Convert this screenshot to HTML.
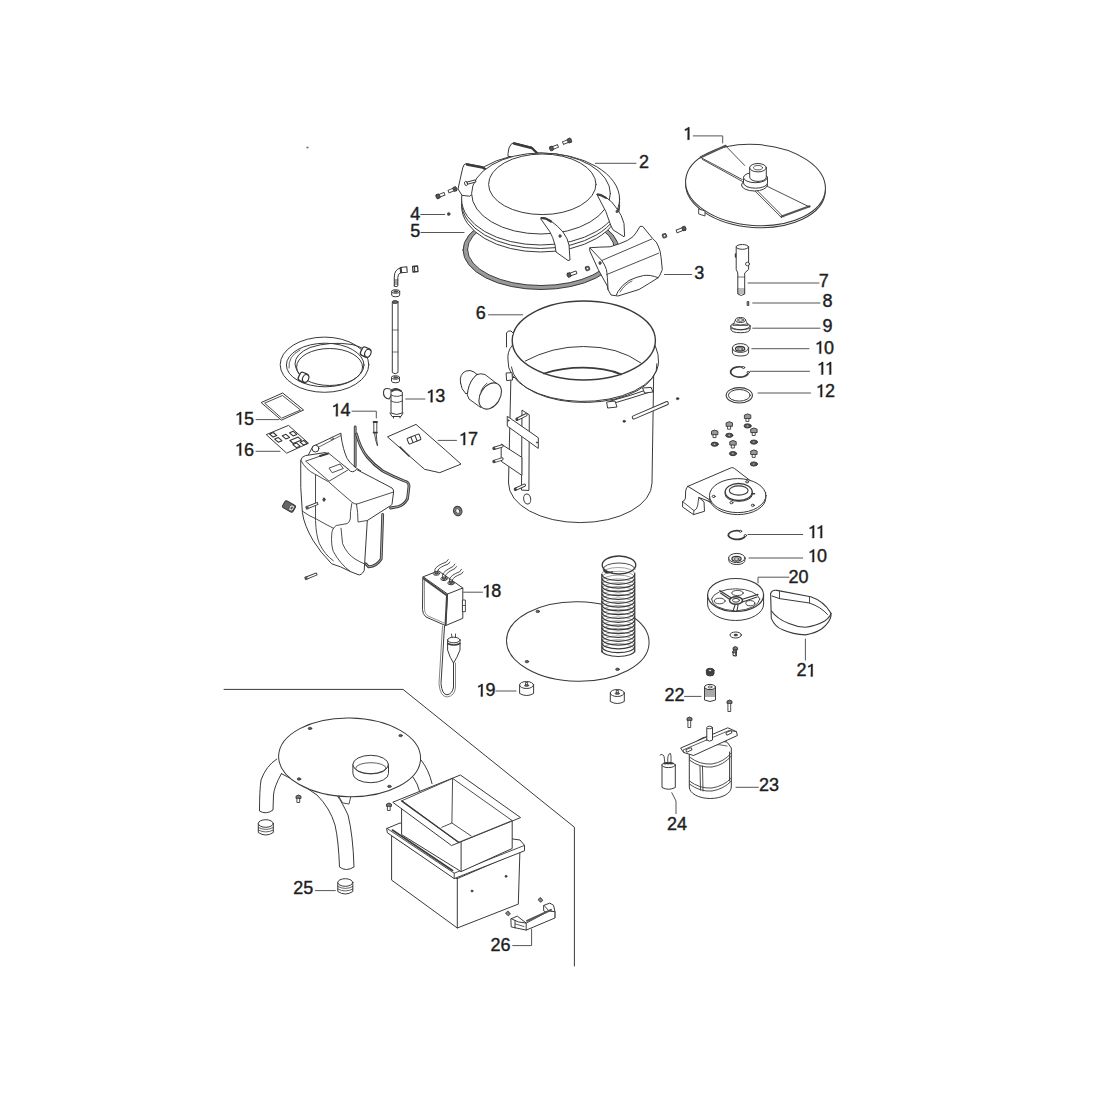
<!DOCTYPE html><html><head><meta charset="utf-8"><style>html,body{margin:0;padding:0;background:#fff;width:1100px;height:1100px;overflow:hidden}svg{display:block}</style></head><body><svg width="1100" height="1100" viewBox="0 0 1100 1100" stroke-linejoin="round" stroke-linecap="round"><path d="M224,689.4 L403,689.4 L574.4,827.2 L574.4,966" fill="none" stroke="#3a3a3a" stroke-width="1.0" /><path d="M693.3,135.9 L722.7,135.9 L722.7,143" fill="none" stroke="#555" stroke-width="1.0" /><path d="M595.3,163.3 L636,163.3" fill="none" stroke="#555" stroke-width="1.0" /><path d="M664.5,274.5 L691.8,274.5" fill="none" stroke="#555" stroke-width="1.0" /><path d="M420.7,214.5 L444.7,214.5" fill="none" stroke="#555" stroke-width="1.0" /><path d="M421,232.5 L464,232.5" fill="none" stroke="#555" stroke-width="1.0" /><path d="M488.5,314.8 L522.7,314.8" fill="none" stroke="#555" stroke-width="1.0" /><path d="M748,283 L819,283" fill="none" stroke="#555" stroke-width="1.0" /><path d="M752.7,303 L820,303" fill="none" stroke="#555" stroke-width="1.0" /><path d="M752.7,328.2 L820,328.2" fill="none" stroke="#555" stroke-width="1.0" /><path d="M751.8,348.7 L809,348.7" fill="none" stroke="#555" stroke-width="1.0" /><path d="M750,371.3 L809.5,371.3" fill="none" stroke="#555" stroke-width="1.0" /><path d="M758,393 L810.5,393" fill="none" stroke="#555" stroke-width="1.0" /><path d="M405.7,399 L425,399" fill="none" stroke="#555" stroke-width="1.0" /><path d="M352,411.2 L376.3,411.2 L376.3,418" fill="none" stroke="#555" stroke-width="1.0" /><path d="M256,419.6 L279,419.6" fill="none" stroke="#555" stroke-width="1.0" /><path d="M256,451.3 L280,451.3" fill="none" stroke="#555" stroke-width="1.0" /><path d="M438,440.4 L456.5,440.4" fill="none" stroke="#555" stroke-width="1.0" /><path d="M463.6,592.2 L482.5,592.2" fill="none" stroke="#555" stroke-width="1.0" /><path d="M496,691 L516,691" fill="none" stroke="#555" stroke-width="1.0" /><path d="M789,577.2 L758,577.2 L758,583" fill="none" stroke="#555" stroke-width="1.0" /><path d="M805.4,639 L805.4,660" fill="none" stroke="#555" stroke-width="1.0" /><path d="M684.5,696.4 L701,696.4" fill="none" stroke="#555" stroke-width="1.0" /><path d="M736,787.3 L758.4,787.3" fill="none" stroke="#555" stroke-width="1.0" /><path d="M671.8,792.7 L676,801 L676,813.6" fill="none" stroke="#555" stroke-width="1.0" /><path d="M315.5,890.6 L335.3,890.6" fill="none" stroke="#555" stroke-width="1.0" /><path d="M512.7,945.6 L531.6,945.6 L531.6,929" fill="none" stroke="#555" stroke-width="1.0" /><path d="M748,534.5 L802.7,534.5" fill="none" stroke="#555" stroke-width="1.0" /><path d="M749,558 L802.7,558" fill="none" stroke="#555" stroke-width="1.0" /><ellipse cx="755.5" cy="187" rx="70" ry="40.5" fill="#fff" stroke="#3a3a3a" stroke-width="1.0" transform="rotate(4 755.5 187)" /><ellipse cx="755.5" cy="185" rx="70" ry="40.5" fill="#fff" stroke="#3a3a3a" stroke-width="1.0" transform="rotate(4 755.5 185)" /><polygon points="699,209 705,211 705,216 699,214" fill="#fff" stroke="#3a3a3a" stroke-width="0.9"/><path d="M700.8,157.3 L725.6,145.8" fill="none" stroke="#555" stroke-width="2.2" /><path d="M700.8,157.5 L742.2,179.5 M702.5,159.5 L742.5,181.5 M725.6,145.8 L744.7,165.5" fill="none" stroke="#3a3a3a" stroke-width="0.9" /><path d="M781.6,216.5 L809.6,206.3" fill="none" stroke="#555" stroke-width="2.2" /><path d="M753.6,189.7 L781.6,217.7 M756,189.5 L783.5,217 M766.4,185.9 L809.6,207" fill="none" stroke="#3a3a3a" stroke-width="0.9" /><ellipse cx="754.5" cy="185" rx="13" ry="6" fill="#fff" stroke="#3a3a3a" stroke-width="1.0" /><path d="M743.5,177.5 L743.5,183.0 A12,5.2 0 0 0 767.5,183.0 L767.5,177.5 Z" fill="#fff" stroke="#3a3a3a" stroke-width="1.0" /><ellipse cx="755.5" cy="177.5" rx="12" ry="5.2" fill="#fff" stroke="#3a3a3a" stroke-width="1.0" /><path d="M749.7,167.7 L749.7,177.2 A8.3,4.2 0 0 0 766.3,177.2 L766.3,167.7 Z" fill="#fff" stroke="#3a3a3a" stroke-width="1.0" /><ellipse cx="758" cy="167.7" rx="8.3" ry="4.2" fill="#fff" stroke="#3a3a3a" stroke-width="1.0" /><ellipse cx="758" cy="167.7" rx="4.5" ry="2.2" fill="#fff" stroke="#3a3a3a" stroke-width="0.8" /><path d="M463,250 A78,39.5 0 1 0 619,250 A78,39.5 0 1 0 463,250 Z M467.5,249.5 A73.5,36 0 1 1 614.5,249.5 A73.5,36 0 1 1 467.5,249.5 Z" fill="#9a9a9a" stroke="#3a3a3a" stroke-width="1.0" fill-rule="evenodd"/><ellipse cx="540.6" cy="206" rx="79" ry="46" fill="#fff" stroke="#3a3a3a" stroke-width="1.0" /><ellipse cx="540.6" cy="202.5" rx="79" ry="46" fill="#fff" stroke="#3a3a3a" stroke-width="1.0" /><ellipse cx="540.6" cy="199" rx="79" ry="46" fill="#fff" stroke="#3a3a3a" stroke-width="1.0" /><path d="M461.8,195 L458,189 L462.7,168 Q463.5,164 466,163.6 L482.7,166.8 L491.8,172.7 L492,180 L470,196 Z" fill="#fff" stroke="#3a3a3a" stroke-width="1.0" /><path d="M467,164.5 L482.7,167.5 L491.5,173.5" fill="none" stroke="#3a3a3a" stroke-width="2.4" /><path d="M508,156 L508,153.6 L509,148 Q510.5,143.5 513.6,142.7 L531.8,147.3 L539,154 L539,158 Z" fill="#fff" stroke="#3a3a3a" stroke-width="1.0" /><path d="M514,143.5 L531.8,148 L538.5,154.5" fill="none" stroke="#3a3a3a" stroke-width="2.4" /><ellipse cx="541" cy="193.5" rx="69.4" ry="40.5" fill="#fff" stroke="#3a3a3a" stroke-width="1.0" /><ellipse cx="542.3" cy="184.3" rx="53.7" ry="30.3" fill="#fff" stroke="#3a3a3a" stroke-width="1.0" /><g transform="translate(466 183.5) rotate(-15)"><rect x="0" y="-1.1" width="10" height="2.2" fill="#fff" stroke="#333" stroke-width="0.9"/><ellipse cx="0" cy="0" rx="1.4" ry="2.2" fill="#fff" stroke="#333" stroke-width="0.9"/></g><path d="M541,218.5 Q543,217 546,218 L551,221 Q558,226 563,232 Q568,239 569,245 L570,260 L568,260.5 L556,252 L555,245 Q553,237 550,232 Z" fill="#fff" stroke="#3a3a3a" stroke-width="1.0" /><path d="M541.5,218 Q546,218 551,221.5" fill="none" stroke="#3a3a3a" stroke-width="2.2" /><ellipse cx="560" cy="236" rx="1.2" ry="1.5" fill="#555" stroke="#3a3a3a" stroke-width="0.6" /><path d="M597.3,194.2 Q600,193 606,197.4 Q612,201 616.4,208 Q622,215 624,223.5 L624.6,236.2 L624,236.8 L613,229.8 L611,226 L606,212 Z" fill="#fff" stroke="#3a3a3a" stroke-width="1.0" /><path d="M597.5,194.5 Q601,195 606,198" fill="none" stroke="#3a3a3a" stroke-width="2.0" /><ellipse cx="617" cy="211.5" rx="1.1" ry="1.3" fill="#555" stroke="#3a3a3a" stroke-width="0.6" /><path d="M590,247.7 Q600,247 610,246.8 Q620,244 627.3,240.5 Q634,237 636.4,232.3 L640,226.4 L642.7,226.4 L652.7,238.6 Q657,242 658.2,246 Q660.5,251 661,256.8 L662.3,269.5 L660,275 L658.2,277.7 Q650,283 639,289.5 L618,296 L611,295 L608,289.5 L607.3,286 L598.2,269.5 L590,251.4 Z" fill="#fff" stroke="#3a3a3a" stroke-width="1.0" /><path d="M590.5,248.5 L601.8,260.5 Q605,265 606.4,269.5 Q607.5,275 608,289.5" fill="none" stroke="#3a3a3a" stroke-width="1.0" /><path d="M601.8,260.5 L651.8,239 M606.8,274.5 L658.6,253.2" fill="none" stroke="#3a3a3a" stroke-width="0.9" /><path d="M658.2,277.7 Q650,274.5 643.6,275.5 Q636,277 629,280.5 Q622,285 618,291.4 L616.4,295" fill="none" stroke="#3a3a3a" stroke-width="1.0" /><path d="M620,292 Q625,284 632,281" fill="none" stroke="#3a3a3a" stroke-width="0.8" /><ellipse cx="600" cy="263" rx="1.2" ry="1.6" fill="#555" stroke="#3a3a3a" stroke-width="0.6" /><g transform="translate(438 196.4) rotate(-22)"><rect x="0" y="-1.4" width="7" height="2.8" fill="#fff" stroke="#3a3a3a" stroke-width="0.9"/><rect x="-1.9" y="-2.1999999999999997" width="3.8" height="4.3999999999999995" rx="1" fill="#555" stroke="#333" stroke-width="0.8"/></g><g transform="translate(455 189) rotate(158)"><rect x="0" y="-1.4" width="7" height="2.8" fill="#fff" stroke="#3a3a3a" stroke-width="0.9"/><rect x="-1.8" y="-2.1" width="3.6" height="4.2" rx="1" fill="#555" stroke="#333" stroke-width="0.8"/></g><g transform="translate(551.5 148.5) rotate(-22)"><rect x="0" y="-1.4" width="7" height="2.8" fill="#fff" stroke="#3a3a3a" stroke-width="0.9"/><rect x="-1.8" y="-2.1" width="3.6" height="4.2" rx="1" fill="#555" stroke="#333" stroke-width="0.8"/></g><g transform="translate(569.5 140.5) rotate(158)"><rect x="0" y="-1.4" width="7" height="2.8" fill="#fff" stroke="#3a3a3a" stroke-width="0.9"/><rect x="-1.9" y="-2.1999999999999997" width="3.8" height="4.3999999999999995" rx="1" fill="#555" stroke="#333" stroke-width="0.8"/></g><g transform="translate(569 275) rotate(-20)"><rect x="0" y="-1.4" width="8" height="2.8" fill="#fff" stroke="#3a3a3a" stroke-width="0.9"/><rect x="-1.8" y="-2.1" width="3.6" height="4.2" rx="1" fill="#555" stroke="#333" stroke-width="0.8"/></g><g transform="translate(587.5 268.5) rotate(-20)"><rect x="-2.0" y="-2.0" width="4" height="4" rx="0.8" fill="#666" stroke="#333" stroke-width="0.8"/><circle cx="0" cy="0" r="0.8" fill="#fff"/></g><g transform="translate(664.5 235.8) rotate(-20)"><rect x="-2.0" y="-2.0" width="4" height="4" rx="0.8" fill="#666" stroke="#333" stroke-width="0.8"/><circle cx="0" cy="0" r="0.8" fill="#fff"/></g><g transform="translate(684 228.5) rotate(158)"><rect x="0" y="-1.4" width="8" height="2.8" fill="#fff" stroke="#3a3a3a" stroke-width="0.9"/><rect x="-1.8" y="-2.1" width="3.6" height="4.2" rx="1" fill="#555" stroke="#333" stroke-width="0.8"/></g><ellipse cx="448.7" cy="214" rx="1.4" ry="1.6" fill="#444" stroke="#3a3a3a" stroke-width="0.5" /><path d="M736.2,247 L736.2,269.4 L737.8,273 L737.8,294 Q741.2,297 744.7,294 L744.7,273 L748.6,269.4 L748.6,247" fill="#fff" stroke="#3a3a3a" stroke-width="1.0" /><ellipse cx="742.4" cy="246.9" rx="6.2" ry="2.4" fill="#fff" stroke="#3a3a3a" stroke-width="1.0" /><path d="M737.8,277 L744.7,277 M737.8,289 L744.7,289 M737.8,291 L744.7,291 M737.8,293 L744.7,293" fill="none" stroke="#3a3a3a" stroke-width="0.7" /><ellipse cx="747.5" cy="264" rx="2" ry="1.8" fill="#fff" stroke="#3a3a3a" stroke-width="0.9" /><path d="M735.5,254 L735.5,257" fill="none" stroke="#3a3a3a" stroke-width="1.4" /><path d="M747.5,301.5 L748.8,301.5 L748.8,305.5 L747.5,305.5 Z" fill="#555" stroke="#3a3a3a" stroke-width="0.8" /><path d="M730.8,326 L730.8,329 Q731,332.7 740.5,332.7 Q750,332.7 750.1,329 L750.1,326" fill="#fff" stroke="#3a3a3a" stroke-width="1.0" /><ellipse cx="740.5" cy="326" rx="9.7" ry="3.6" fill="#fff" stroke="#3a3a3a" stroke-width="1.0" /><path d="M733,325 L735.5,320 L745.5,320 L748,325 Z" fill="#fff" stroke="#3a3a3a" stroke-width="0.9" /><path d="M731.5,328.5 Q740.5,331.5 749.5,328.5" fill="none" stroke="#3a3a3a" stroke-width="0.8" /><ellipse cx="740.5" cy="320" rx="5" ry="2.5" fill="#fff" stroke="#3a3a3a" stroke-width="1.0" /><ellipse cx="740.5" cy="320" rx="3" ry="1.3" fill="#fff" stroke="#3a3a3a" stroke-width="0.9" /><path d="M734,324 Q740.5,326 747,324" fill="none" stroke="#3a3a3a" stroke-width="0.8" /><path d="M732.4,348 L732.4,352 Q732.4,356 740.5,356 Q748.6,356 748.6,352 L748.6,348" fill="#fff" stroke="#3a3a3a" stroke-width="1.0" /><ellipse cx="740.5" cy="348" rx="8.1" ry="4.4" fill="#fff" stroke="#3a3a3a" stroke-width="1.0" /><ellipse cx="740.1" cy="348.8" rx="4.6" ry="2.3" fill="#fff" stroke="#3a3a3a" stroke-width="1.3" /><ellipse cx="740.1" cy="349" rx="2.6" ry="1.2" fill="#fff" stroke="#3a3a3a" stroke-width="0.9" /><path d="M743.5,367.3 A8.9,5.2 0 1 0 748.4,372.5" fill="none" stroke="#3a3a3a" stroke-width="1.7" /><ellipse cx="743.5" cy="367.6" rx="1.2" ry="1.0" fill="#fff" stroke="#3a3a3a" stroke-width="1.0" /><ellipse cx="748.3" cy="372.4" rx="1.2" ry="1.0" fill="#fff" stroke="#3a3a3a" stroke-width="1.0" /><ellipse cx="739.3" cy="395.3" rx="13.1" ry="7.7" fill="none" stroke="#3a3a3a" stroke-width="1.1" /><ellipse cx="739.3" cy="395.3" rx="10.9" ry="5.8" fill="none" stroke="#3a3a3a" stroke-width="1.0" /><ellipse cx="714.7" cy="444.2" rx="3.6" ry="2.1" fill="#555" stroke="#333" stroke-width="0.9" /><ellipse cx="714.7" cy="444.2" rx="1.26" ry="0.735" fill="#fff" stroke="#3a3a3a" stroke-width="0.5" /><g><rect x="713.4000000000001" y="433.79999999999995" width="2.6" height="3.8" fill="#fff" stroke="#3a3a3a" stroke-width="0.9"/><path d="M711.5,434.29999999999995 L711.5,431.29999999999995 Q714.7,428.9 717.9000000000001,431.29999999999995 L717.9000000000001,434.29999999999995 Z" fill="#999" stroke="#333" stroke-width="0.9"/></g><ellipse cx="729.3" cy="435.3" rx="3.6" ry="2.1" fill="#555" stroke="#333" stroke-width="0.9" /><ellipse cx="729.3" cy="435.3" rx="1.26" ry="0.735" fill="#fff" stroke="#3a3a3a" stroke-width="0.5" /><g><rect x="728.0" y="425.4" width="2.6" height="3.8" fill="#fff" stroke="#3a3a3a" stroke-width="0.9"/><path d="M726.0999999999999,425.9 L726.0999999999999,422.9 Q729.3,420.5 732.5,422.9 L732.5,425.9 Z" fill="#999" stroke="#333" stroke-width="0.9"/></g><ellipse cx="747.6" cy="425.9" rx="3.6" ry="2.1" fill="#555" stroke="#333" stroke-width="0.9" /><ellipse cx="747.6" cy="425.9" rx="1.26" ry="0.735" fill="#fff" stroke="#3a3a3a" stroke-width="0.5" /><g><rect x="746.3000000000001" y="417.59999999999997" width="2.6" height="3.8" fill="#fff" stroke="#3a3a3a" stroke-width="0.9"/><path d="M744.4,418.09999999999997 L744.4,415.09999999999997 Q747.6,412.7 750.8000000000001,415.09999999999997 L750.8000000000001,418.09999999999997 Z" fill="#999" stroke="#333" stroke-width="0.9"/></g><ellipse cx="753.9" cy="442.1" rx="3.6" ry="2.1" fill="#555" stroke="#333" stroke-width="0.9" /><ellipse cx="753.9" cy="442.1" rx="1.26" ry="0.735" fill="#fff" stroke="#3a3a3a" stroke-width="0.5" /><g><rect x="752.6" y="431.7" width="2.6" height="3.8" fill="#fff" stroke="#3a3a3a" stroke-width="0.9"/><path d="M750.6999999999999,432.2 L750.6999999999999,429.2 Q753.9,426.8 757.1,429.2 L757.1,432.2 Z" fill="#999" stroke="#333" stroke-width="0.9"/></g><ellipse cx="733" cy="453.6" rx="3.6" ry="2.1" fill="#555" stroke="#333" stroke-width="0.9" /><ellipse cx="733" cy="453.6" rx="1.26" ry="0.735" fill="#fff" stroke="#3a3a3a" stroke-width="0.5" /><g><rect x="731.7" y="444.2" width="2.6" height="3.8" fill="#fff" stroke="#3a3a3a" stroke-width="0.9"/><path d="M729.8,444.7 L729.8,441.7 Q733,439.3 736.2,441.7 L736.2,444.7 Z" fill="#999" stroke="#333" stroke-width="0.9"/></g><ellipse cx="753.9" cy="464" rx="3.6" ry="2.1" fill="#555" stroke="#333" stroke-width="0.9" /><ellipse cx="753.9" cy="464" rx="1.26" ry="0.735" fill="#fff" stroke="#3a3a3a" stroke-width="0.5" /><g><rect x="752.6" y="453.59999999999997" width="2.6" height="3.8" fill="#fff" stroke="#3a3a3a" stroke-width="0.9"/><path d="M750.6999999999999,454.09999999999997 L750.6999999999999,451.09999999999997 Q753.9,448.7 757.1,451.09999999999997 L757.1,454.09999999999997 Z" fill="#999" stroke="#333" stroke-width="0.9"/></g><path d="M510.9,378 L508.5,483 A71.5,39.5 0 0 0 652,483 L653.7,372 Z" fill="#fff" stroke="#3a3a3a" stroke-width="1.0" /><path d="M512,345.6 Q507,352 508,360 A75,39.5 0 0 0 658.6,363.5 Q659,354 655.4,346" fill="#fff" stroke="#3a3a3a" stroke-width="1.0" /><ellipse cx="583.8" cy="340.5" rx="71.6" ry="39.5" fill="#fff" stroke="#3a3a3a" stroke-width="1.4" /><path d="M511.4,367 A72.5,37 0 0 0 657,363.6" fill="none" stroke="#3a3a3a" stroke-width="1.0" /><path d="M525.3,361 Q552,346.5 583.4,346.5 Q618,346.5 640.6,362.8" fill="none" stroke="#3a3a3a" stroke-width="1.0" /><path d="M544,373.5 Q562,367.7 583.4,367.7 Q605,367.7 621,374.3" fill="none" stroke="#3a3a3a" stroke-width="1.8" /><path d="M506.5,347 L506.5,333 Q508,330 511,331 L513,333" fill="#fff" stroke="#3a3a3a" stroke-width="1.0" /><polygon points="506.5,373 512,372.6 512.5,380 507,380.5" fill="#fff" stroke="#3a3a3a" stroke-width="1.0"/><path d="M609.5,401.3 Q630,396 652,388 M611,404 Q632,398 653,391" fill="none" stroke="#3a3a3a" stroke-width="1.0" /><polygon points="643,388 651,387.4 653,392 645,393" fill="#fff" stroke="#3a3a3a" stroke-width="1.0"/><polygon points="607,402 615,401 617,407 608,408" fill="#fff" stroke="#3a3a3a" stroke-width="1.0"/><g transform="translate(632.4 418) rotate(-23.3)"><rect x="0" y="-1.6" width="39" height="3.2" rx="1.6" fill="#fff" stroke="#3a3a3a" stroke-width="1"/></g><ellipse cx="624.2" cy="421.3" rx="1.4" ry="1.1" fill="#333" stroke="#3a3a3a" stroke-width="0.5" /><ellipse cx="677.6" cy="398.7" rx="1.4" ry="1.1" fill="#333" stroke="#3a3a3a" stroke-width="0.5" /><polygon points="522.3,410.3 529.3,414.8 528.9,490.5 521.9,490.1" fill="#fff" stroke="#3a3a3a" stroke-width="1.0"/><polygon points="507.6,416.5 538.3,437.7 538.3,448.4 507.6,426.3" fill="#fff" stroke="#3a3a3a" stroke-width="1.0"/><polygon points="501.5,444.3 521.9,457.4 521.9,475.4 501.5,461.5" fill="#fff" stroke="#3a3a3a" stroke-width="1.0"/><line x1="517" y1="419.3" x2="526" y2="414.8" stroke="#3a3a3a" stroke-width="3.2" stroke-linecap="round"/><line x1="517" y1="419.3" x2="526" y2="414.8" stroke="#fff" stroke-width="1.4" stroke-linecap="round"/><ellipse cx="517" cy="419.3" rx="1.0" ry="1.4" fill="#444" stroke="#3a3a3a" stroke-width="0.5" /><line x1="494" y1="448.4" x2="502" y2="446" stroke="#3a3a3a" stroke-width="3.2" stroke-linecap="round"/><line x1="494" y1="448.4" x2="502" y2="446" stroke="#fff" stroke-width="1.4" stroke-linecap="round"/><ellipse cx="494" cy="448.4" rx="1.0" ry="1.4" fill="#444" stroke="#3a3a3a" stroke-width="0.5" /><line x1="494" y1="461.5" x2="502" y2="459" stroke="#3a3a3a" stroke-width="3.2" stroke-linecap="round"/><line x1="494" y1="461.5" x2="502" y2="459" stroke="#fff" stroke-width="1.4" stroke-linecap="round"/><ellipse cx="494" cy="461.5" rx="1.0" ry="1.4" fill="#444" stroke="#3a3a3a" stroke-width="0.5" /><line x1="515.4" y1="489.3" x2="524.4" y2="485.2" stroke="#3a3a3a" stroke-width="3.2" stroke-linecap="round"/><line x1="515.4" y1="489.3" x2="524.4" y2="485.2" stroke="#fff" stroke-width="1.4" stroke-linecap="round"/><ellipse cx="515.4" cy="489.3" rx="1.0" ry="1.4" fill="#444" stroke="#3a3a3a" stroke-width="0.5" /><ellipse cx="508.5" cy="420.5" rx="0.8" ry="0.8" fill="#444" stroke="#3a3a3a" stroke-width="0.4" /><ellipse cx="537" cy="442.5" rx="0.8" ry="0.8" fill="#444" stroke="#3a3a3a" stroke-width="0.4" /><ellipse cx="527.2" cy="499" rx="3.5" ry="5" fill="#fff" stroke="#3a3a3a" stroke-width="1.0" transform="rotate(-10 527.2 499)" /><path d="M460.5,383 Q459,374 466,371 Q470,369.5 474,372 L477,374.5 Q470,380 468,392 L466,394 Q461,389 460.5,383 Z" fill="#fff" stroke="#3a3a3a" stroke-width="1.0" /><path d="M477,374.5 Q481,373 485,374.5 L496.7,383.5 L480.7,407.5 L469,399 Q466,395 468,390 Q470,380 477,374.5 Z" fill="#fff" stroke="#3a3a3a" stroke-width="1.0" /><ellipse cx="490.2" cy="396" rx="14.2" ry="9.8" fill="#fff" stroke="#3a3a3a" stroke-width="1.1" transform="rotate(-57 490.2 396)" /><path d="M481,391 Q483,386 487,383" fill="none" stroke="#3a3a3a" stroke-width="0.8" /><ellipse cx="457.7" cy="511" rx="4.2" ry="4.8" fill="#777" stroke="#3a3a3a" stroke-width="1.0" transform="rotate(-20 457.7 511)" /><ellipse cx="457.7" cy="511" rx="1.8" ry="2.4" fill="#fff" stroke="#3a3a3a" stroke-width="0.6" transform="rotate(-20 457.7 511)" /><path d="M394.3,286 L394.3,277 Q394.3,269.5 400.5,268 L401,272.5 Q397.8,273.5 397.8,277.5 L397.8,286 Q396,287.5 394.3,286 Z" fill="#fff" stroke="#3a3a3a" stroke-width="1.0" /><path d="M394.3,280 L397.8,280 M394.3,282 L397.8,282 M394.3,284 L397.8,284" fill="none" stroke="#3a3a3a" stroke-width="0.9" /><polygon points="400.2,267.5 406.8,266.8 407.2,272.2 400.6,272.8" fill="#fff" stroke="#3a3a3a" stroke-width="1.1"/><path d="M401,268 L401.5,272.5" fill="none" stroke="#3a3a3a" stroke-width="1.4" /><polygon points="412.6,266.5 417.5,266 418,271.5 413,272" fill="#fff" stroke="#3a3a3a" stroke-width="1.3"/><line x1="414.5" y1="266.3" x2="414.7" y2="271.8" stroke="#3a3a3a" stroke-width="1.1"/><path d="M391.7,291.5 L391.7,295.0 A4,1.8 0 0 0 399.7,295.0 L399.7,291.5 Z" fill="#fff" stroke="#3a3a3a" stroke-width="1.0" /><ellipse cx="395.7" cy="291.5" rx="4" ry="1.8" fill="#fff" stroke="#3a3a3a" stroke-width="1.0" /><ellipse cx="395.7" cy="291.5" rx="2" ry="0.9" fill="#555" stroke="#3a3a3a" stroke-width="0.5" /><path d="M392.3,302 L392.3,372.5 Q395.2,375 398,372.5 L398,302" fill="#fff" stroke="#3a3a3a" stroke-width="1.0" /><ellipse cx="395.15" cy="302" rx="2.85" ry="1.5" fill="#666" stroke="#3a3a3a" stroke-width="0.9" /><line x1="392.3" y1="330" x2="398" y2="330" stroke="#3a3a3a" stroke-width="0.7"/><line x1="392.3" y1="352" x2="398" y2="352" stroke="#3a3a3a" stroke-width="0.7"/><path d="M391.5,377.5 L391.5,381.0 A4,1.8 0 0 0 399.5,381.0 L399.5,377.5 Z" fill="#fff" stroke="#3a3a3a" stroke-width="1.0" /><ellipse cx="395.5" cy="377.5" rx="4" ry="1.8" fill="#fff" stroke="#3a3a3a" stroke-width="1.0" /><ellipse cx="395.5" cy="377.5" rx="2" ry="0.9" fill="#555" stroke="#3a3a3a" stroke-width="0.5" /><path d="M390,389 Q384,387 383.5,392 Q383,398 389,399 L391,396" fill="#fff" stroke="#3a3a3a" stroke-width="1.1" /><path d="M391,390 L391,413 Q396.5,416 402.3,413 L402.3,392 Q396.5,386 391,390 Z" fill="#fff" stroke="#3a3a3a" stroke-width="1.0" /><path d="M391,395 Q396.5,398 402.3,395 M391,401 Q396.5,404 402.3,401" fill="none" stroke="#3a3a3a" stroke-width="0.9" /><path d="M392,391 Q396.5,388 401,391" fill="none" stroke="#3a3a3a" stroke-width="2.0" /><path d="M390,413 L392,416.5 L401,416.5 L403,413 M393.5,416.5 L393.5,418 M400,416.5 L400,418" fill="none" stroke="#3a3a3a" stroke-width="1.0" /><path d="M373.8,422 L373.8,432.6 L376.8,432.6 L376.8,422 Z" fill="#fff" stroke="#3a3a3a" stroke-width="0.9" /><path d="M373.6,422 L377,422 M373.6,432.6 L377,432.6" fill="none" stroke="#3a3a3a" stroke-width="1.8" /><path d="M374.5,433 Q375,440 377.4,445.5 M376.2,433 Q376.5,439 377.4,445.5" fill="none" stroke="#3a3a3a" stroke-width="0.9" /><ellipse cx="324.5" cy="364.7" rx="44.3" ry="27.6" fill="none" stroke="#3a3a3a" stroke-width="1.0" /><ellipse cx="325.2" cy="365" rx="38.8" ry="21.8" fill="none" stroke="#3a3a3a" stroke-width="1.0" /><path d="M304,379 Q296,372 295,364 Q295,354 310,347.5 Q330,341 352,344.5 Q358,346 362,348" fill="none" stroke="#3a3a3a" stroke-width="1.0" /><ellipse cx="329.6" cy="367" rx="33" ry="18.5" fill="none" stroke="#3a3a3a" stroke-width="1.0" /><path d="M289,368 Q288,356 300,350" fill="none" stroke="#3a3a3a" stroke-width="0.8" /><g transform="translate(366 352.4) rotate(25)"><rect x="-5" y="-4.5" width="9" height="9" rx="2.5" fill="#fff" stroke="#333" stroke-width="1.3"/><ellipse cx="2" cy="0" rx="3" ry="4" fill="#fff" stroke="#333" stroke-width="1.1"/></g><g transform="translate(303.8 377.6) rotate(25)"><rect x="-5" y="-4.5" width="9" height="9" rx="2.5" fill="#fff" stroke="#333" stroke-width="1.3"/><ellipse cx="2" cy="0" rx="3" ry="4" fill="#fff" stroke="#333" stroke-width="1.1"/></g><polygon points="261.5,402.4 282.7,393 303.6,410 281.8,420" fill="#fff" stroke="#3a3a3a" stroke-width="1.0"/><polygon points="265,403 282.5,395.5 300.5,410 282,418" fill="none" stroke="#3a3a3a" stroke-width="0.9"/><polygon points="266.6,434.5 288.5,425.4 308.5,443.2 287,453" fill="#fff" stroke="#3a3a3a" stroke-width="1.0"/><polygon points="269.6,434.0 273.3,432.5 276.8,435.6 273.1,437.1" fill="#fff" stroke="#333" stroke-width="1.1"/><polygon points="282.3,435.8 286.0,434.3 289.5,437.4 285.8,438.9" fill="#fff" stroke="#333" stroke-width="1.1"/><polygon points="289.6,432.8 293.3,431.3 296.8,434.4 293.1,435.9" fill="#fff" stroke="#333" stroke-width="1.1"/><polygon points="274.7,439.1 278.4,437.6 281.9,440.7 278.2,442.2" fill="#fff" stroke="#333" stroke-width="1.1"/><polygon points="289.9,440.5 298.2,437.1 301.5,440.1 293.2,443.5" fill="#fff" stroke="#333" stroke-width="1.1"/><polygon points="292.9,444.6 296.6,443.1 300.1,446.2 296.4,447.7" fill="#fff" stroke="#333" stroke-width="1.1"/><polygon points="300.1,442.0 303.8,440.5 307.3,443.6 303.6,445.1" fill="#fff" stroke="#333" stroke-width="1.1"/><polygon points="387.8,436.7 416,424.4 445.5,450.2 461,464.1 439.7,472.7 425,469.4" fill="#fff" stroke="#3a3a3a" stroke-width="1.0"/><path d="M400,447 L409,456" fill="none" stroke="#3a3a3a" stroke-width="1.5" /><g transform="rotate(-22 414 439)"><rect x="407.5" y="436" width="13" height="6" rx="1" fill="#fff" stroke="#333" stroke-width="1"/><line x1="411.8" y1="436" x2="411.8" y2="442" stroke="#333" stroke-width="1"/><line x1="416.2" y1="436" x2="416.2" y2="442" stroke="#333" stroke-width="1"/></g><path d="M313.2,446.3 L341,433.1 L341,435.5 Q343,450 347.2,458.6 Q352,466 361,471 L330,480 L305,462 Z" fill="#fff" stroke="#3a3a3a" stroke-width="1.0" /><path d="M314.5,449.3 L341,435.5" fill="none" stroke="#3a3a3a" stroke-width="0.8" /><ellipse cx="315.5" cy="448.6" rx="3.4" ry="3.4" fill="#fff" stroke="#3a3a3a" stroke-width="1.0" /><ellipse cx="332" cy="438.5" rx="1.3" ry="1.3" fill="#fff" stroke="#3a3a3a" stroke-width="0.8" /><path d="M355.2,427 L355.2,466" fill="none" stroke="#3a3a3a" stroke-width="2.8" /><path d="M355.2,427 L355.2,466" fill="none" stroke="#aaa" stroke-width="1.0" /><path d="M356.5,434 Q360,448 367.3,457 Q374,465 382.7,471 Q394,477 404.4,481 Q409,482 409,486 L407.5,498.8 Q404,505 398.2,506.6 L390.5,508" fill="none" stroke="#3a3a3a" stroke-width="2.8" /><path d="M356.5,434 Q360,448 367.3,457 Q374,465 382.7,471 Q394,477 404.4,481 Q409,482 409,486 L407.5,498.8 Q404,505 398.2,506.6 L390.5,508" fill="none" stroke="#aaa" stroke-width="1.0" /><path d="M382.7,514.3 L381.2,559 Q377,566 368.8,566.9 L365.7,563.8" fill="none" stroke="#3a3a3a" stroke-width="2.8" /><path d="M382.7,514.3 L381.2,559 Q377,566 368.8,566.9 L365.7,563.8" fill="none" stroke="#aaa" stroke-width="1.0" /><path d="M300.8,460.2 Q301.5,456.5 305.5,455.6 L325.6,452.5 L348.7,469.5 Q352,474 356.5,469.5 Q375,479 392,488 Q394,490 393.6,492 L392,504.2 Q391,506 389,506.6 L367.3,520.5 L364.2,570.7 Q361,576 358,574.6 L350.3,571.5 Q340,566 331.7,563.8 Q320,552 313.2,540.6 Q304,525 302.4,512.7 L300.8,488 Z" fill="#fff" stroke="#3a3a3a" stroke-width="1.0" /><path d="M306,461 L328.6,453.2 L348.7,469.5 L329.4,481 Z" fill="#fff" stroke="#3a3a3a" stroke-width="0.9" /><polygon points="329.4,468 340,464 343.3,468.5 332.5,472.6" fill="#fff" stroke="#3a3a3a" stroke-width="0.9"/><path d="M320,456 L328,453.5" fill="none" stroke="#3a3a3a" stroke-width="2.0" /><path d="M300.8,460.2 Q306,470 314.7,474 L328.6,481.8 Q340,492 351.8,502 Q354,504 356.5,504.2" fill="none" stroke="#3a3a3a" stroke-width="0.9" /><path d="M356.5,504.2 L393.6,492" fill="none" stroke="#3a3a3a" stroke-width="0.9" /><path d="M351.8,503.5 Q350,512 350.3,519 Q349,523 347.2,523.6 L336.4,525.5 Q332,528 331.7,534.4 Q331,545 333.3,551.4 Q340,564 350.3,571.5" fill="none" stroke="#3a3a3a" stroke-width="0.9" /><path d="M356.5,504.2 Q358,512 358,522 L367.3,520.5" fill="none" stroke="#3a3a3a" stroke-width="0.9" /><path d="M315.5,475 L315.5,520.5 Q316,535 319.4,543.7 Q325,555 333.3,560.7" fill="none" stroke="#3a3a3a" stroke-width="0.9" /><path d="M302.4,511.2 Q309,516 316.3,519 Q325,524 333.3,528.2" fill="none" stroke="#3a3a3a" stroke-width="0.9" /><path d="M341,528.2 Q342,538 342.6,543.7 Q347,554 355,559 Q360,562 364.2,563.8" fill="none" stroke="#3a3a3a" stroke-width="0.9" /><g transform="translate(307.5 507.5) rotate(-22)"><rect x="0" y="-1.1" width="11" height="2.2" fill="#fff" stroke="#333" stroke-width="0.9"/><rect x="-2" y="-1.8" width="3" height="3.6" rx="1" fill="#555"/></g><ellipse cx="324" cy="499.6" rx="1.2" ry="1.8" fill="#444" stroke="#3a3a3a" stroke-width="0.6" /><g transform="translate(306.5 578) rotate(-22)"><rect x="0" y="-1.1" width="11" height="2.2" fill="#fff" stroke="#333" stroke-width="0.9"/><rect x="-2" y="-1.8" width="3" height="3.6" rx="1" fill="#555"/></g><g transform="translate(289 506.5) rotate(30)"><rect x="-6" y="-4" width="12" height="8" rx="2" fill="#666" stroke="#333" stroke-width="0.9"/><ellipse cx="3" cy="0" rx="2.5" ry="3.3" fill="#fff" stroke="#333" stroke-width="0.8"/><ellipse cx="3" cy="0" rx="1.2" ry="1.6" fill="#555"/></g><path d="M687.5,486.5 L731.4,467.7 Q733,467.3 734.5,468.5 L766,492.8 L760,505 L714.7,505.3 Z" fill="#fff" stroke="#3a3a3a" stroke-width="1.0" /><path d="M687.5,486.5 Q685.5,489 685.6,492 L685.4,498.2 Q684.8,501 682.6,501.5 L682.6,507 L693.5,514.6 L704.5,511.3 L704,501.8 L698.8,497.5 L715.4,503.6 Z" fill="#fff" stroke="#3a3a3a" stroke-width="1.0" /><path d="M682.6,501.5 L694,510.7 L693.5,514.6 M694,510.7 Q697,509.5 697.6,506 L698.8,497.5" fill="none" stroke="#3a3a3a" stroke-width="0.9" /><path d="M709.5,495.6 L709.5,497.6 A28.2,17 0 0 0 765.9,497.6 L765.9,495.6" fill="#fff" stroke="#3a3a3a" stroke-width="1.0" /><ellipse cx="737.7" cy="495.6" rx="28.2" ry="17" fill="#fff" stroke="#3a3a3a" stroke-width="1.0" /><path d="M725.2,492 L725.2,494.5 A13.5,6.8 0 0 0 752.3,494.5 L752.3,492" fill="#fff" stroke="#3a3a3a" stroke-width="1.0" /><ellipse cx="738.7" cy="492" rx="13.5" ry="8.5" fill="#fff" stroke="#3a3a3a" stroke-width="1.3" /><ellipse cx="738.7" cy="490.5" rx="9.4" ry="4.6" fill="#fff" stroke="#3a3a3a" stroke-width="1.1" /><ellipse cx="713.7" cy="496.4" rx="1.5" ry="1.1" fill="#fff" stroke="#3a3a3a" stroke-width="1.0" /><ellipse cx="747.1" cy="481.8" rx="1.5" ry="1.1" fill="#fff" stroke="#3a3a3a" stroke-width="1.0" /><ellipse cx="752.8" cy="505.3" rx="1.5" ry="1.1" fill="#fff" stroke="#3a3a3a" stroke-width="1.0" /><ellipse cx="731.4" cy="502.7" rx="1.5" ry="1.1" fill="#fff" stroke="#3a3a3a" stroke-width="1.0" /><path d="M752,493.8 L754.5,493.8" fill="none" stroke="#3a3a3a" stroke-width="1.6" /><path d="M740.5,531 A8.6,4.4 0 1 0 745.5,535.5" fill="none" stroke="#3a3a3a" stroke-width="1.7" /><ellipse cx="740.5" cy="531.3" rx="1.2" ry="1.0" fill="#fff" stroke="#3a3a3a" stroke-width="1.0" /><ellipse cx="745.4" cy="535.5" rx="1.2" ry="1.0" fill="#fff" stroke="#3a3a3a" stroke-width="1.0" /><path d="M728.7,558 L728.7,559.5 Q728.7,564.5 736.8,564.5 Q745,564.5 745,559.5 L745,558" fill="#fff" stroke="#3a3a3a" stroke-width="1.0" /><ellipse cx="736.8" cy="558" rx="8.2" ry="4.6" fill="#fff" stroke="#3a3a3a" stroke-width="1.0" /><ellipse cx="736.5" cy="558.8" rx="4.6" ry="2.4" fill="#fff" stroke="#3a3a3a" stroke-width="1.3" /><ellipse cx="736.5" cy="559" rx="2.6" ry="1.2" fill="#fff" stroke="#3a3a3a" stroke-width="0.9" /><path d="M707.6,595 L707.6,604 A28,16.5 0 0 0 763.6,604 L763.6,595" fill="#fff" stroke="#3a3a3a" stroke-width="1.0" /><ellipse cx="735.6" cy="595" rx="28" ry="16.5" fill="#fff" stroke="#3a3a3a" stroke-width="1.2" /><path d="M711.5,599 A24.3,11.5 0 0 1 759.8,599" fill="none" stroke="#3a3a3a" stroke-width="0.9" /><path d="M711.5,599 Q712,609 735.6,611 Q758,609 759.8,599" fill="none" stroke="#3a3a3a" stroke-width="0.9" /><ellipse cx="719.7" cy="601" rx="5.5" ry="2.8" fill="#fff" stroke="#3a3a3a" stroke-width="0.9" /><ellipse cx="750.3" cy="603.2" rx="4.5" ry="2.6" fill="#fff" stroke="#3a3a3a" stroke-width="0.9" /><ellipse cx="737.5" cy="593" rx="5.8" ry="2.6" fill="#fff" stroke="#3a3a3a" stroke-width="0.9" /><path d="M719.7,590.5 L733,599 M720.5,593 L732,601 M758,594.4 L740,600 M757,597 L741,602.5 M735,605 L733,611 M738,605 L737,611" fill="none" stroke="#3a3a3a" stroke-width="1.1" /><ellipse cx="736" cy="600.5" rx="6.5" ry="3.8" fill="#fff" stroke="#3a3a3a" stroke-width="1.5" /><ellipse cx="736" cy="600.3" rx="3.5" ry="1.9" fill="#fff" stroke="#3a3a3a" stroke-width="1.0" /><ellipse cx="735.7" cy="635" rx="5.7" ry="3" fill="#fff" stroke="#3a3a3a" stroke-width="1.0" /><ellipse cx="735.7" cy="635" rx="1.8" ry="1" fill="#333" stroke="#3a3a3a" stroke-width="0.5" /><g><rect x="734.0999999999999" y="649.0" width="2.4" height="7" fill="#fff" stroke="#3a3a3a" stroke-width="0.9"/><path d="M733.05,649.5 L733.05,647.7 Q735.3,645.3 737.55,647.7 L737.55,649.5 Z" fill="#777" stroke="#333" stroke-width="0.9"/></g><path d="M770.6,593.5 Q772,589.5 777,590.4 L810.7,596.7 Q824,601 831,613.3 L831,615.8 Q830,622 822.2,628.5 Q816,633 805.6,634.9 Q793,634.5 782.7,629.8 Q775,627 771.3,618.4 Z" fill="#fff" stroke="#3a3a3a" stroke-width="1.1" /><path d="M772,596 L779.5,598.6 L809.5,603 Q821,607 827.5,614.5" fill="none" stroke="#3a3a3a" stroke-width="1.0" /><path d="M771.5,611 Q777,619 789,623.5 Q797,627 805.6,627.3 Q816,626 824.7,621 Q830,617 831,613.3" fill="none" stroke="#3a3a3a" stroke-width="1.1" /><path d="M779.5,591.5 L779.5,598.6 M809.5,597 L809.5,603" fill="none" stroke="#3a3a3a" stroke-width="0.9" /><path d="M706.4000000000001,670.5 L706.4000000000001,673.7 A3.8,2.2 0 0 0 714.0,673.7 L714.0,670.5 Z" fill="#444" stroke="#3a3a3a" stroke-width="1.0" /><ellipse cx="710.2" cy="670.5" rx="3.8" ry="2.2" fill="#444" stroke="#3a3a3a" stroke-width="1.0" /><ellipse cx="710.2" cy="670.5" rx="1.5" ry="0.8" fill="#fff" stroke="#3a3a3a" stroke-width="0.4" /><path d="M704.5,687 L704.5,700 Q710,703 715.5,700 L715.5,687" fill="#fff" stroke="#3a3a3a" stroke-width="1.0" /><path d="M705,690 L715,690 M705,692 L715,692 M705,694 L715,694 M705,696 L715,696" fill="none" stroke="#555" stroke-width="1.0" /><ellipse cx="710" cy="687" rx="5.5" ry="2.6" fill="#fff" stroke="#3a3a3a" stroke-width="1.0" /><ellipse cx="710" cy="687" rx="2" ry="1" fill="#fff" stroke="#3a3a3a" stroke-width="0.8" /><g><rect x="733.4" y="651.9" width="2.2" height="3.6" fill="#fff" stroke="#3a3a3a" stroke-width="0.9"/><path d="M732.7,652.4 L732.7,651.2 Q734.5,648.8 736.3,651.2 L736.3,652.4 Z" fill="#777" stroke="#333" stroke-width="0.9"/></g><g><rect x="728.3" y="702.5" width="2.4" height="9" fill="#fff" stroke="#3a3a3a" stroke-width="0.9"/><path d="M727.0,703 L727.0,701.2 Q729.5,698.8 732.0,701.2 L732.0,703 Z" fill="#777" stroke="#333" stroke-width="0.9"/></g><g><rect x="688.3" y="719.5" width="2.4" height="8" fill="#fff" stroke="#3a3a3a" stroke-width="0.9"/><path d="M687.0,720 L687.0,718.2 Q689.5,715.8 692.0,718.2 L692.0,720 Z" fill="#777" stroke="#333" stroke-width="0.9"/></g><path d="M689.3,752 L689.3,787 A21,11.5 0 0 0 731.3,787 L731.3,748 Q725,736 710,736 Q694,738 689.3,752 Z" fill="#fff" stroke="#3a3a3a" stroke-width="1.0" /><path d="M689.3,757 Q700,765 712,764 Q724,762 731.3,753 M689.3,760 Q700,768 712,767 Q724,765 731.3,756" fill="none" stroke="#3a3a3a" stroke-width="0.9" /><path d="M689.3,781 Q700,789 712,788 Q724,786 731.3,778 M689.3,784 Q700,792 712,791 Q724,789 731.3,781" fill="none" stroke="#3a3a3a" stroke-width="0.9" /><path d="M700,766 L700.5,790 M702.5,766 L703,791 M729.5,752 L729.5,781" fill="none" stroke="#3a3a3a" stroke-width="0.9" /><path d="M697,745 Q710,738 726,742 M700,749 Q712,742 727,746" fill="none" stroke="#3a3a3a" stroke-width="0.8" /><polygon points="681,747.9 727.8,727.8 736.4,731.6 737.4,735.5 693.5,755.5 684,752.6" fill="#fff" stroke="#3a3a3a" stroke-width="1.0"/><path d="M684,752.6 L683,750 L729,730.5 L736.4,731.6" fill="none" stroke="#3a3a3a" stroke-width="0.8" /><g transform="rotate(-24 689 750)"><rect x="686" y="748.5" width="6" height="2.6" rx="1" fill="#fff" stroke="#333" stroke-width="0.9"/></g><g transform="rotate(-24 729 733)"><rect x="726" y="731.5" width="6" height="2.6" rx="1" fill="#fff" stroke="#333" stroke-width="0.9"/></g><path d="M706.8,740 L706.8,728 Q709.6,725 712.5,728 L712.5,740 Q709.6,742.5 706.8,740 Z" fill="#fff" stroke="#3a3a3a" stroke-width="1.0" /><ellipse cx="709.6" cy="727.5" rx="2.8" ry="1.3" fill="#fff" stroke="#3a3a3a" stroke-width="0.9" /><path d="M662,765 L662,787.5 Q668.5,791 675.3,787.5 L675.3,765" fill="#fff" stroke="#3a3a3a" stroke-width="1.0" /><ellipse cx="668.6" cy="765" rx="6.7" ry="2.6" fill="#fff" stroke="#3a3a3a" stroke-width="1.0" /><path d="M665,764 L664,756 Q662,753 660,755 M668,764 Q667,757 669,754 Q671,752 671,756 L671,764" fill="none" stroke="#3a3a3a" stroke-width="0.9" /><path d="M664,763.5 L673,763.5" fill="none" stroke="#3a3a3a" stroke-width="1.6" /><path d="M444.5,626 L441,683.6 Q442,694.5 447,694.8 Q452.5,694 453.5,687 L453.5,663" fill="none" stroke="#3a3a3a" stroke-width="1.0" /><path d="M442.5,626 L439,683.6 Q440,696.5 447,697 Q455,696 455.5,687 L455.5,663" fill="none" stroke="#666" stroke-width="0.8" /><path d="M423.2,576.8 L438.4,570.8 L462.8,588 L462.8,618.3 L445.6,625.6 L426,617 Q422.5,614 422.5,610 Z" fill="#fff" stroke="#3a3a3a" stroke-width="1.0" /><path d="M423.2,576.8 L447.6,594 L462.8,588 M447.6,594 L445.6,625.6" fill="none" stroke="#3a3a3a" stroke-width="1.0" /><path d="M423.5,578.5 L447,595.5 L445.5,625" fill="none" stroke="#444" stroke-width="2.0" /><path d="M424.5,580 L424.5,610 Q425,614 428,616 L444,623" fill="none" stroke="#666" stroke-width="0.7" /><ellipse cx="436.4" cy="573.5" rx="3.2" ry="1.8" fill="#fff" stroke="#3a3a3a" stroke-width="1.0" /><path d="M435.09999999999997,573.5 L434.9,569.5 Q436.4,565.5 446.3,562 L448.3,559.5 M437.7,573.0 L437.9,570.5 Q438.4,567.5 448.3,564 L449.8,562" fill="none" stroke="#3a3a3a" stroke-width="0.9" /><ellipse cx="436.4" cy="573.5" rx="1.6" ry="0.9" fill="#555" stroke="#3a3a3a" stroke-width="0.5" /><ellipse cx="444" cy="578.8" rx="3.2" ry="1.8" fill="#fff" stroke="#3a3a3a" stroke-width="1.0" /><path d="M442.7,578.8 L442.5,574.8 Q444,570.8 452.9,566.6 L454.9,564.1 M445.3,578.3 L445.5,575.8 Q446,572.8 454.9,568.6 L456.4,566.6" fill="none" stroke="#3a3a3a" stroke-width="0.9" /><ellipse cx="444" cy="578.8" rx="1.6" ry="0.9" fill="#555" stroke="#3a3a3a" stroke-width="0.5" /><ellipse cx="451" cy="583" rx="3.2" ry="1.8" fill="#fff" stroke="#3a3a3a" stroke-width="1.0" /><path d="M449.7,583 L449.5,579 Q451,575 459.5,571.8 L461.5,569.3 M452.3,582.5 L452.5,580 Q453,577 461.5,573.8 L463.0,571.8" fill="none" stroke="#3a3a3a" stroke-width="0.9" /><ellipse cx="451" cy="583" rx="1.6" ry="0.9" fill="#555" stroke="#3a3a3a" stroke-width="0.5" /><polygon points="462.8,600 465.4,600 465.4,611.7 462.8,611.7" fill="#fff" stroke="#3a3a3a" stroke-width="0.9"/><line x1="462.8" y1="605.5" x2="465.4" y2="605.5" stroke="#3a3a3a" stroke-width="0.8"/><path d="M447.6,640 L447.6,650 Q450,658 453.5,663 Q457,658 460,650 L460,640 Z" fill="#fff" stroke="#3a3a3a" stroke-width="1.0" /><ellipse cx="453.8" cy="640" rx="6.2" ry="2.8" fill="#fff" stroke="#3a3a3a" stroke-width="1.0" /><path d="M447.6,643.5 Q453.8,646.5 460,643.5" fill="none" stroke="#3a3a3a" stroke-width="1.4" /><path d="M452,637.5 L451.5,634 M455.5,637.5 L455.5,634" fill="none" stroke="#3a3a3a" stroke-width="0.9" /><ellipse cx="577.8" cy="641.5" rx="71.3" ry="39.8" fill="#fff" stroke="#3a3a3a" stroke-width="1.0" transform="rotate(1 577.8 641.5)" /><ellipse cx="537.8" cy="611.4" rx="1.8" ry="1.2" fill="#666" stroke="#3a3a3a" stroke-width="0.8" /><ellipse cx="526.9" cy="661.6" rx="1.8" ry="1.2" fill="#666" stroke="#3a3a3a" stroke-width="0.8" /><ellipse cx="617.5" cy="669.3" rx="1.8" ry="1.2" fill="#666" stroke="#3a3a3a" stroke-width="0.8" /><path d="M601.8,573 L601.8,650 A16.5,7 0 0 0 634.8,650 L634.8,573 Z" fill="#fff" stroke="none"/><path d="M602.3,573.0 A16,5.5 0 0 1 634.3,573.0 M602.3,576.8 A16,5.5 0 0 1 634.3,576.8 M602.3,580.6 A16,5.5 0 0 1 634.3,580.6 M602.3,584.4 A16,5.5 0 0 1 634.3,584.4 M602.3,588.2 A16,5.5 0 0 1 634.3,588.2 M602.3,592.0 A16,5.5 0 0 1 634.3,592.0 M602.3,595.8 A16,5.5 0 0 1 634.3,595.8 M602.3,599.6 A16,5.5 0 0 1 634.3,599.6 M602.3,603.4 A16,5.5 0 0 1 634.3,603.4 M602.3,607.2 A16,5.5 0 0 1 634.3,607.2 M602.3,611.0 A16,5.5 0 0 1 634.3,611.0 M602.3,614.8 A16,5.5 0 0 1 634.3,614.8 M602.3,618.6 A16,5.5 0 0 1 634.3,618.6 M602.3,622.4 A16,5.5 0 0 1 634.3,622.4 M602.3,626.2 A16,5.5 0 0 1 634.3,626.2 M602.3,630.0 A16,5.5 0 0 1 634.3,630.0 M602.3,633.8 A16,5.5 0 0 1 634.3,633.8 M602.3,637.6 A16,5.5 0 0 1 634.3,637.6 M602.3,641.4 A16,5.5 0 0 1 634.3,641.4 M602.3,645.2 A16,5.5 0 0 1 634.3,645.2 M602.3,649.0 A16,5.5 0 0 1 634.3,649.0 " fill="none" stroke="#888" stroke-width="0.8" /><path d="M602,574.5 A16.3,6 0 0 0 634.6,574.5 M602,578.3 A16.3,6 0 0 0 634.6,578.3 M602,582.1 A16.3,6 0 0 0 634.6,582.1 M602,585.9 A16.3,6 0 0 0 634.6,585.9 M602,589.7 A16.3,6 0 0 0 634.6,589.7 M602,593.5 A16.3,6 0 0 0 634.6,593.5 M602,597.3 A16.3,6 0 0 0 634.6,597.3 M602,601.1 A16.3,6 0 0 0 634.6,601.1 M602,604.9 A16.3,6 0 0 0 634.6,604.9 M602,608.7 A16.3,6 0 0 0 634.6,608.7 M602,612.5 A16.3,6 0 0 0 634.6,612.5 M602,616.3 A16.3,6 0 0 0 634.6,616.3 M602,620.1 A16.3,6 0 0 0 634.6,620.1 M602,623.9 A16.3,6 0 0 0 634.6,623.9 M602,627.7 A16.3,6 0 0 0 634.6,627.7 M602,631.5 A16.3,6 0 0 0 634.6,631.5 M602,635.3 A16.3,6 0 0 0 634.6,635.3 M602,639.1 A16.3,6 0 0 0 634.6,639.1 M602,642.9 A16.3,6 0 0 0 634.6,642.9 M602,646.7 A16.3,6 0 0 0 634.6,646.7 M602,650.5 A16.3,6 0 0 0 634.6,650.5 " fill="none" stroke="#3a3a3a" stroke-width="1.2" /><path d="M601.8,574 L601.8,652 M634.8,573 L634.8,652" fill="none" stroke="#3a3a3a" stroke-width="1.1" /><path d="M603,569 A16,6 0 0 1 635,569" fill="none" stroke="#3a3a3a" stroke-width="0.9" /><ellipse cx="619" cy="565" rx="16.8" ry="9" fill="none" stroke="#3a3a3a" stroke-width="1.3" /><path d="M604,570 Q606,574 612,572" fill="none" stroke="#3a3a3a" stroke-width="1.8" /><path d="M519.6,685 L519.6,693.5 Q526.6,697.5 533.6,693.5 L533.6,685" fill="#fff" stroke="#3a3a3a" stroke-width="1.0" /><ellipse cx="526.6" cy="685" rx="7" ry="3.5" fill="#fff" stroke="#3a3a3a" stroke-width="1.0" /><path d="M525.6,685.5 L525.6,682.5 L527.6,682.5 L527.6,685.5" fill="#fff" stroke="#3a3a3a" stroke-width="0.9" /><ellipse cx="526.6" cy="685.5" rx="2.2" ry="1.1" fill="#555" stroke="#3a3a3a" stroke-width="0.5" /><path d="M610.3,693 L610.3,701.5 Q617.3,705.5 624.3,701.5 L624.3,693" fill="#fff" stroke="#3a3a3a" stroke-width="1.0" /><ellipse cx="617.3" cy="693" rx="7" ry="3.5" fill="#fff" stroke="#3a3a3a" stroke-width="1.0" /><path d="M616.3,693.5 L616.3,690.5 L618.3,690.5 L618.3,693.5" fill="#fff" stroke="#3a3a3a" stroke-width="0.9" /><ellipse cx="617.3" cy="693.5" rx="2.2" ry="1.1" fill="#555" stroke="#3a3a3a" stroke-width="0.5" /><path d="M421,760 Q429,770 432,783.6" fill="none" stroke="#3a3a3a" stroke-width="1.0" /><path d="M413,777 Q418,784 419.5,791" fill="none" stroke="#3a3a3a" stroke-width="1.0" /><path d="M276.8,759 Q266,766 261,780 Q259.5,790 259.5,811 Q266,815 273,810 L273.5,795 Q274,787 281.4,773.6" fill="#fff" stroke="#3a3a3a" stroke-width="1.0" /><path d="M281.4,773.6 Q300,782 317,795 Q330,808 335,825 Q338.5,840 339.5,867 Q346,872 354,867 Q353,835 348,815 Q342,802 337.7,796.4" fill="#fff" stroke="#3a3a3a" stroke-width="1.0" /><path d="M339,796 L351,796 L349,804 L343,803 Z" fill="#fff" stroke="#3a3a3a" stroke-width="0.9" /><ellipse cx="349.6" cy="757.3" rx="71" ry="39.4" fill="#fff" stroke="#3a3a3a" stroke-width="1.0" transform="rotate(1 349.6 757.3)" /><ellipse cx="310" cy="728.4" rx="1.8" ry="1.2" fill="#555" stroke="#3a3a3a" stroke-width="0.7" /><ellipse cx="400.6" cy="735.6" rx="1.8" ry="1.2" fill="#555" stroke="#3a3a3a" stroke-width="0.7" /><ellipse cx="299" cy="779" rx="1.8" ry="1.2" fill="#555" stroke="#3a3a3a" stroke-width="0.7" /><ellipse cx="389.4" cy="786.4" rx="1.8" ry="1.2" fill="#555" stroke="#3a3a3a" stroke-width="0.7" /><path d="M352.9,764.5 L352.9,773.5 A17.8,9.2 0 0 0 388.5,773.5 L388.5,764.5 Z" fill="#fff" stroke="#3a3a3a" stroke-width="1.0" /><ellipse cx="370.7" cy="764.5" rx="17.8" ry="9.2" fill="#fff" stroke="#3a3a3a" stroke-width="1.0" /><ellipse cx="371" cy="768.3" rx="15.3" ry="5.6" fill="none" stroke="#3a3a3a" stroke-width="0.8" /><g><rect x="297.3" y="797.5" width="2.4" height="5" fill="#fff" stroke="#3a3a3a" stroke-width="0.9"/><path d="M296.0,798 L296.0,796.2 Q298.5,793.8 301.0,796.2 L301.0,798 Z" fill="#777" stroke="#333" stroke-width="0.9"/></g><g><rect x="387.8" y="805.5" width="2.4" height="5" fill="#fff" stroke="#3a3a3a" stroke-width="0.9"/><path d="M386.5,806 L386.5,804.2 Q389,801.8 391.5,804.2 L391.5,806 Z" fill="#777" stroke="#333" stroke-width="0.9"/></g><path d="M258.3,823.5 L258.3,832.5 Q265.8,837.5 273.3,832.5 L273.3,823.5" fill="#fff" stroke="#3a3a3a" stroke-width="1.0" /><path d="M258.3,827.5 Q265.8,831.5 273.3,827.5 M258.3,830.0 Q265.8,834.0 273.3,830.0" fill="none" stroke="#3a3a3a" stroke-width="0.8" /><ellipse cx="265.8" cy="823.5" rx="7.5" ry="3.8" fill="#fff" stroke="#3a3a3a" stroke-width="1.0" /><path d="M337.8,882.5 L337.8,891.5 Q345.3,896.5 352.8,891.5 L352.8,882.5" fill="#fff" stroke="#3a3a3a" stroke-width="1.0" /><path d="M337.8,886.5 Q345.3,890.5 352.8,886.5 M337.8,889.0 Q345.3,893.0 352.8,889.0" fill="none" stroke="#3a3a3a" stroke-width="0.8" /><ellipse cx="345.3" cy="882.5" rx="7.5" ry="3.8" fill="#fff" stroke="#3a3a3a" stroke-width="1.0" /><path d="M391.6,836 L391.6,880.1 L457.3,928 L518.3,904.1 L519.9,851.6 L457.3,878.6 Z" fill="#fff" stroke="#3a3a3a" stroke-width="1.0" /><path d="M457.3,878.6 L457.3,928" fill="none" stroke="#3a3a3a" stroke-width="1.0" /><path d="M387,828.4 L400,823 L520,840 L524.5,845.4 L524.5,850.8 L454.2,878.6 L387.7,833 Z" fill="#fff" stroke="#3a3a3a" stroke-width="1.0" /><path d="M387,828.4 L454.2,873.2 L524.5,845.4 M454.2,873.2 L454.2,878.6" fill="none" stroke="#3a3a3a" stroke-width="0.9" /><path d="M392.4,830 L452.6,870.5" fill="none" stroke="#3a3a3a" stroke-width="1.6" /><path d="M401.6,805 L401.6,834.6 L461.1,871.6 L512.2,848.5 L512.2,819 Z" fill="#fff" stroke="#3a3a3a" stroke-width="1.0" /><path d="M461.1,842.3 L461.1,871.6" fill="none" stroke="#3a3a3a" stroke-width="1.0" /><path d="M393.1,802.1 L460.4,775 L520.6,817.6 L451.9,845.4 Z" fill="#fff" stroke="#3a3a3a" stroke-width="1.0" /><path d="M402.4,800.5 L452.6,778.4 L512.2,820.6 L458.8,842.3 Z" fill="#fff" stroke="#3a3a3a" stroke-width="0.9" /><path d="M401.5,801 L459,842.5" fill="none" stroke="#3a3a3a" stroke-width="1.5" /><path d="M452.6,778.4 L451.9,823 L441.8,827.3 M451.9,823 L471.2,836" fill="none" stroke="#3a3a3a" stroke-width="0.9" /><ellipse cx="472" cy="891" rx="1.1" ry="1.1" fill="#333" stroke="#3a3a3a" stroke-width="0.5" /><ellipse cx="506" cy="876.3" rx="1.1" ry="1.1" fill="#333" stroke="#3a3a3a" stroke-width="0.5" /><polygon points="544,905.3 549.8,903.1 553.6,905.3 554.9,911.7 554.9,918 549,914 544,911" fill="#fff" stroke="#3a3a3a" stroke-width="1.0"/><path d="M544,905.3 L549,911 L554.9,911.7 M549,911 L549,914" fill="none" stroke="#3a3a3a" stroke-width="0.9" /><polygon points="511.2,918.7 517.3,916.1 526.2,923.1 549,911 554.9,911.7 554.9,918 526.2,930.1 511.6,927" fill="#fff" stroke="#3a3a3a" stroke-width="1.0"/><path d="M511.2,918.7 Q518,923 526.2,923.1 L526.2,930.1 M515,920.5 L515,928" fill="none" stroke="#3a3a3a" stroke-width="1.0" /><path d="M527,920.8 L551,909.8" fill="none" stroke="#555" stroke-width="2.0" /><path d="M515.5,924 L524,926.5" fill="none" stroke="#3a3a3a" stroke-width="0.8" /><g transform="translate(508 913.5) rotate(40)"><rect x="-2" y="-1.6" width="4" height="3.2" rx="1" fill="#888" stroke="#333" stroke-width="0.8"/></g><g transform="translate(540.5 900) rotate(40)"><rect x="-2" y="-1.6" width="4" height="3.2" rx="1" fill="#888" stroke="#333" stroke-width="0.8"/></g><ellipse cx="307.5" cy="147.5" rx="1.2" ry="1.0" fill="#777" stroke="none" stroke-width="0" /><g font-family="Liberation Sans, sans-serif" font-size="18" stroke="#1e1e1e" stroke-width="0.4" fill="#1e1e1e"><path d="M687.73,139.70 L689.32,139.70 L689.32,127.32 L688.12,127.32 Q687.33,128.71 684.93,129.33 L684.93,130.56 Q686.72,130.38 687.73,129.24 Z"/><text x="638.90" y="167.7">2</text><text x="694.20" y="279">3</text><text x="410.30" y="219.7">4</text><text x="410.30" y="236.8">5</text><text x="475.80" y="318.8">6</text><text x="818.80" y="287.3">7</text><text x="822.40" y="307">8</text><text x="822.40" y="331.8">9</text><path d="M819.53,353.60 L821.12,353.60 L821.12,341.22 L819.92,341.22 Q819.13,342.61 816.73,343.23 L816.73,344.46 Q818.52,344.28 819.53,343.14 Z"/><text x="823.90" y="353.6">0</text><path d="M821.53,374.50 L823.12,374.50 L823.12,362.12 L821.92,362.12 Q821.13,363.51 818.73,364.13 L818.73,365.36 Q820.52,365.18 821.53,364.04 Z"/><path d="M829.53,374.50 L831.12,374.50 L831.12,362.12 L829.92,362.12 Q829.13,363.51 826.73,364.13 L826.73,365.36 Q828.52,365.18 829.53,364.04 Z"/><path d="M820.53,397.00 L822.12,397.00 L822.12,384.62 L820.92,384.62 Q820.13,386.01 817.73,386.63 L817.73,387.86 Q819.52,387.68 820.53,386.54 Z"/><text x="824.90" y="397">2</text><path d="M430.83,402.20 L432.42,402.20 L432.42,389.82 L431.22,389.82 Q430.43,391.21 428.03,391.83 L428.03,393.06 Q429.82,392.88 430.83,391.74 Z"/><text x="435.20" y="402.2">3</text><path d="M336.13,416.20 L337.72,416.20 L337.72,403.82 L336.52,403.82 Q335.73,405.21 333.33,405.83 L333.33,407.06 Q335.12,406.88 336.13,405.74 Z"/><text x="340.50" y="416.2">4</text><path d="M239.53,424.50 L241.12,424.50 L241.12,412.12 L239.92,412.12 Q239.13,413.51 236.73,414.13 L236.73,415.36 Q238.52,415.18 239.53,414.04 Z"/><text x="243.90" y="424.5">5</text><path d="M239.53,455.50 L241.12,455.50 L241.12,443.12 L239.92,443.12 Q239.13,444.51 236.73,445.13 L236.73,446.36 Q238.52,446.18 239.53,445.04 Z"/><text x="243.90" y="455.5">6</text><path d="M463.53,445.00 L465.12,445.00 L465.12,432.62 L463.92,432.62 Q463.13,434.01 460.73,434.63 L460.73,435.86 Q462.52,435.68 463.53,434.54 Z"/><text x="467.90" y="445">7</text><path d="M486.83,597.30 L488.42,597.30 L488.42,584.92 L487.22,584.92 Q486.43,586.31 484.03,586.93 L484.03,588.16 Q485.82,587.98 486.83,586.84 Z"/><text x="491.20" y="597.3">8</text><path d="M481.03,696.40 L482.62,696.40 L482.62,684.02 L481.42,684.02 Q480.63,685.41 478.23,686.03 L478.23,687.26 Q480.02,687.08 481.03,685.94 Z"/><text x="485.40" y="696.4">9</text><text x="788.50" y="582.7">2</text><text x="798.51" y="582.7">0</text><text x="796.50" y="676.4">2</text><path d="M811.04,676.40 L812.63,676.40 L812.63,664.02 L811.43,664.02 Q810.64,665.41 808.24,666.03 L808.24,667.26 Q810.03,667.08 811.04,665.94 Z"/><text x="664.50" y="701">2</text><text x="674.51" y="701">2</text><text x="759.00" y="791.4">2</text><text x="769.01" y="791.4">3</text><text x="667.00" y="830">2</text><text x="677.01" y="830">4</text><text x="293.20" y="894">2</text><text x="303.21" y="894">5</text><text x="490.60" y="951.2">2</text><text x="500.61" y="951.2">6</text><path d="M812.53,538.00 L814.12,538.00 L814.12,525.62 L812.92,525.62 Q812.13,527.01 809.73,527.63 L809.73,528.86 Q811.52,528.68 812.53,527.54 Z"/><path d="M820.53,538.00 L822.12,538.00 L822.12,525.62 L820.92,525.62 Q820.13,527.01 817.73,527.63 L817.73,528.86 Q819.52,528.68 820.53,527.54 Z"/><path d="M812.53,562.00 L814.12,562.00 L814.12,549.62 L812.92,549.62 Q812.13,551.01 809.73,551.63 L809.73,552.86 Q811.52,552.68 812.53,551.54 Z"/><text x="816.90" y="562">0</text></g></svg></body></html>
